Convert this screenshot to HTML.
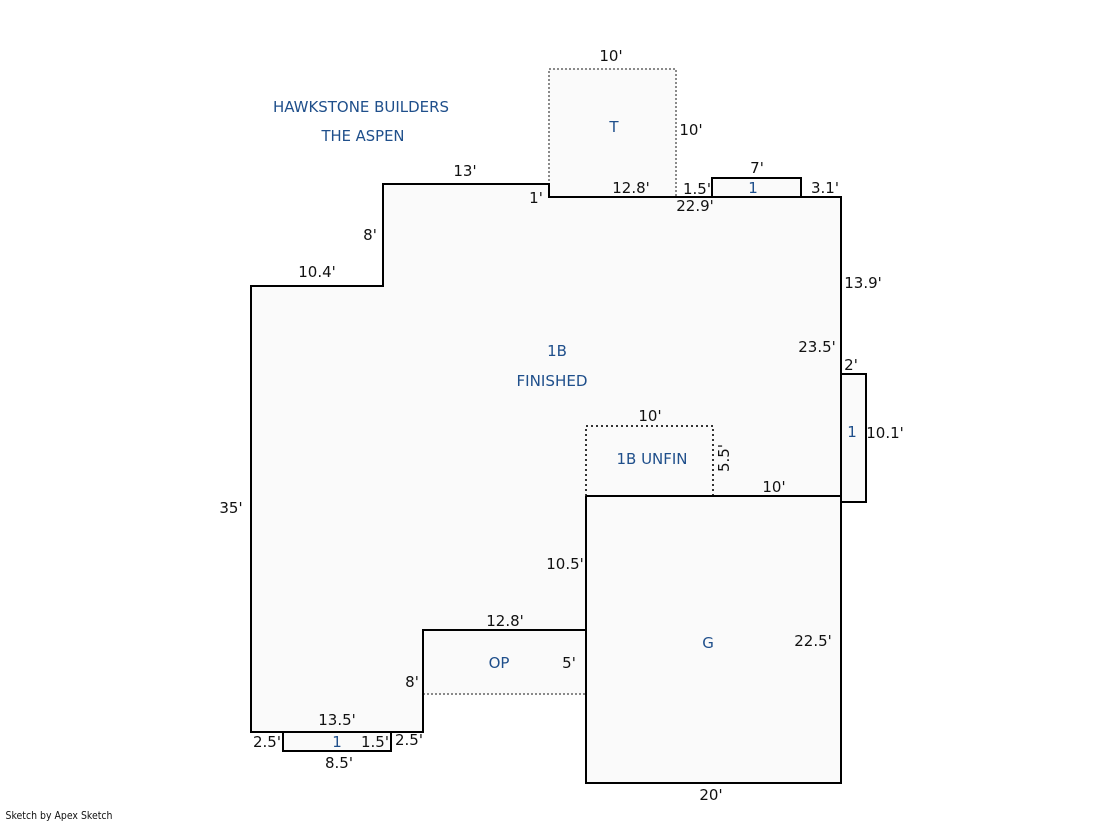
<!DOCTYPE html>
<html>
<head>
<meta charset="utf-8">
<style>
html,body{margin:0;padding:0;background:#fff;width:1119px;height:821px;overflow:hidden}
svg{display:block}
text{font-family:"DejaVu Sans","Liberation Sans",sans-serif;font-size:15px;text-anchor:middle;dominant-baseline:central}
.d{fill:#111}
.b{fill:#1f4f8b}
.s{fill:none;stroke:#000;stroke-width:2}
.f{fill:#fafafa;stroke:none}
</style>
</head>
<body>
<svg width="1119" height="821" viewBox="0 0 1119 821" xmlns="http://www.w3.org/2000/svg">
<rect class="f" x="549" y="69" width="127" height="128"/>
<polygon class="f" points="251,286 383,286 383,184 549,184 549,197 841,197 841,496 586,496 586,630 423,630 423,732 251,732"/>
<rect class="f" x="423" y="630" width="163" height="64"/>
<rect class="f" x="586" y="496" width="255" height="287"/>
<rect class="f" x="712" y="178" width="89" height="19"/>
<rect class="f" x="841" y="374" width="25" height="128"/>
<rect class="f" x="283" y="732" width="108" height="19"/>

<path d="M549 197V69H676V197" fill="none" stroke="#8a8a8a" stroke-width="2" stroke-dasharray="2 2"/>
<path d="M423 694H586" fill="none" stroke="#8a8a8a" stroke-width="2" stroke-dasharray="2 2"/>
<path d="M586 496V426H713V496" fill="none" stroke="#333" stroke-width="2" stroke-dasharray="2 3"/>

<path class="s" d="M251 286H383V184H549V197H841V783H586V630H423V732H251Z"/>
<path class="s" d="M586 496H841"/>
<path class="s" d="M586 630V496"/>
<path class="s" d="M712 197V178H801V197"/>
<path class="s" d="M841 374H866V502H841"/>
<path class="s" d="M283 732V751H391V732"/>

<g transform="translate(0,1)">
<text class="b" x="361" y="106" textLength="176" lengthAdjust="spacingAndGlyphs">HAWKSTONE BUILDERS</text>
<text class="b" x="363" y="135" textLength="83" lengthAdjust="spacingAndGlyphs">THE ASPEN</text>
<text class="b" x="614" y="126">T</text>
<text class="b" x="753" y="187">1</text>
<text class="b" x="557" y="350">1B</text>
<text class="b" x="552" y="380" textLength="71" lengthAdjust="spacingAndGlyphs">FINISHED</text>
<text class="b" x="652" y="458" textLength="71" lengthAdjust="spacingAndGlyphs">1B UNFIN</text>
<text class="b" x="852" y="431">1</text>
<text class="b" x="708" y="642">G</text>
<text class="b" x="499" y="662">OP</text>
<text class="b" x="337" y="741">1</text>

<text class="d" x="611" y="55">10'</text>
<text class="d" x="691" y="129">10'</text>
<text class="d" x="465" y="170">13'</text>
<text class="d" x="757" y="167">7'</text>
<text class="d" x="536" y="197">1'</text>
<text class="d" x="631" y="187">12.8'</text>
<text class="d" x="697" y="188">1.5'</text>
<text class="d" x="825" y="187">3.1'</text>
<text class="d" x="695" y="205">22.9'</text>
<text class="d" x="370" y="234">8'</text>
<text class="d" x="317" y="271">10.4'</text>
<text class="d" x="863" y="282">13.9'</text>
<text class="d" x="817" y="346">23.5'</text>
<text class="d" x="851" y="364">2'</text>
<text class="d" x="650" y="415">10'</text>
<text class="d" x="885" y="432">10.1'</text>
<text class="d" x="774" y="486">10'</text>
<text class="d" x="231" y="507">35'</text>
<text class="d" x="565" y="563">10.5'</text>
<text class="d" x="505" y="620">12.8'</text>
<text class="d" x="813" y="640">22.5'</text>
<text class="d" x="569" y="662">5'</text>
<text class="d" x="412" y="681">8'</text>
<text class="d" x="337" y="719">13.5'</text>
<text class="d" x="267" y="741">2.5'</text>
<text class="d" x="375" y="741">1.5'</text>
<text class="d" x="409" y="739">2.5'</text>
<text class="d" x="339" y="762">8.5'</text>
<text class="d" x="711" y="794">20'</text>
<text class="d" x="724" y="457" transform="rotate(-90 724 457)">5.5'</text>
<text class="d" x="59" y="815" style="font-size:10.5px" textLength="107" lengthAdjust="spacingAndGlyphs">Sketch by Apex Sketch</text>
</g>
</svg>
</body>
</html>
